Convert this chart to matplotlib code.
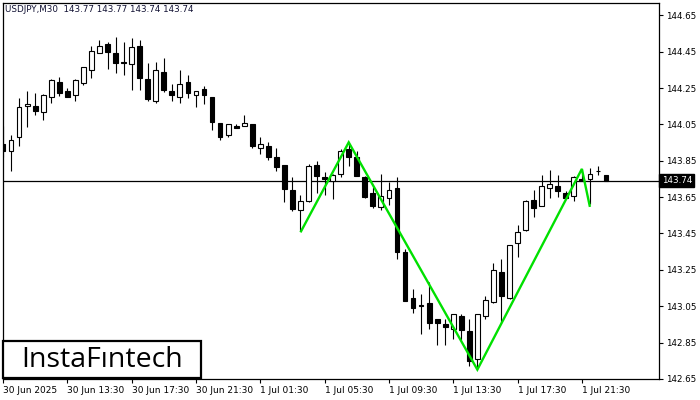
import matplotlib
matplotlib.use("Agg")
import matplotlib.pyplot as plt
from matplotlib.patches import Rectangle
import matplotlib.transforms as mtransforms

# ---------------- data (USDJPY, M30, one bar per 30 min from 30 Jun 09:30) ----------------
opens = [143.940, 143.901, 143.980, 144.149, 144.149, 144.120, 144.199, 144.284, 144.233, 144.211,
         144.278, 144.351, 144.442, 144.492, 144.442, 144.391, 144.380, 144.481, 144.301, 144.177,
         144.340, 144.233, 144.199, 144.284, 144.211, 144.244, 144.199, 144.058, 143.991, 144.042,
         144.042, 144.053, 143.918, 143.929, 143.873, 143.828, 143.687, 143.580, 143.630, 143.828,
         143.760, 143.737, 143.777, 143.912, 143.873, 143.760, 143.670, 143.596, 143.647, 143.698,
         143.349, 143.095, 143.056, 143.067, 142.977, 142.954, 142.926, 142.994, 142.915, 142.757,
         142.994, 143.073, 143.236, 143.095, 143.399, 143.467, 143.636, 143.602, 143.698, 143.709,
         143.670, 143.658, 143.749, 143.749, 143.791, 143.770]
highs = [144.042, 143.991, 144.194, 144.233, 144.222, 144.216, 144.301, 144.312, 144.250, 144.301,
         144.368, 144.481, 144.515, 144.504, 144.532, 144.504, 144.526, 144.515, 144.385, 144.391,
         144.413, 144.273, 144.351, 144.323, 144.233, 144.261, 144.199, 144.058, 144.053, 144.053,
         144.104, 144.053, 143.980, 143.951, 143.918, 143.828, 143.760, 143.659, 143.833, 143.850,
         143.788, 143.777, 143.912, 143.946, 143.901, 143.766, 143.704, 143.777, 143.732, 143.760,
         143.366, 143.146, 143.118, 143.185, 142.977, 142.977, 143.005, 143.005, 142.982, 143.005,
         143.106, 143.287, 143.309, 143.388, 143.495, 143.636, 143.687, 143.771, 143.799, 143.771,
         143.681, 143.766, 143.805, 143.811, 143.822, 143.770]
lows = [143.873, 143.794, 143.929, 144.036, 144.104, 144.075, 144.165, 144.205, 144.199, 144.177,
        144.267, 144.306, 144.442, 144.357, 144.334, 144.323, 144.239, 144.239, 144.177, 144.165,
        144.227, 144.177, 144.165, 144.194, 144.143, 144.160, 144.019, 143.963, 143.980, 144.030,
        144.042, 143.918, 143.889, 143.856, 143.794, 143.625, 143.574, 143.461, 143.625, 143.675,
        143.664, 143.642, 143.760, 143.822, 143.766, 143.647, 143.591, 143.580, 143.608, 143.309,
        143.078, 143.011, 142.898, 142.926, 142.836, 142.836, 142.870, 142.864, 142.723, 142.706,
        142.977, 143.067, 142.960, 143.089, 143.320, 143.461, 143.540, 143.602, 143.647, 143.653,
        143.647, 143.630, 143.737, 143.613, 143.771, 143.740]
closes = [143.906, 143.963, 144.143, 144.160, 144.126, 144.211, 144.295, 144.222, 144.199, 144.295,
          144.363, 144.453, 144.481, 144.447, 144.385, 144.385, 144.475, 144.306, 144.188, 144.351,
          144.239, 144.211, 144.273, 144.222, 144.233, 144.211, 144.064, 143.980, 144.053, 144.030,
          144.058, 143.929, 143.940, 143.873, 143.816, 143.692, 143.585, 143.630, 143.822, 143.766,
          143.749, 143.771, 143.901, 143.873, 143.766, 143.653, 143.602, 143.658, 143.687, 143.349,
          143.078, 143.039, 143.053, 142.960, 142.960, 142.937, 143.005, 142.920, 142.751, 143.005,
          143.084, 143.247, 143.106, 143.388, 143.456, 143.630, 143.591, 143.709, 143.721, 143.681,
          143.647, 143.760, 143.737, 143.777, 143.794, 143.740]

# pattern line (bar index, price)
pattern_idx = [37, 43, 59, 72, 73]
pattern_px = [143.456, 143.951, 142.701, 143.805, 143.596]

last_price = 143.74
price_ticks = [142.65, 142.85, 143.05, 143.25, 143.45, 143.65, 143.85, 144.05, 144.25, 144.45, 144.65]
time_labels = ["30 Jun 2025", "30 Jun 13:30", "30 Jun 17:30", "30 Jun 21:30", "1 Jul 01:30",
               "1 Jul 05:30", "1 Jul 09:30", "1 Jul 13:30", "1 Jul 17:30", "1 Jul 21:30"]
title = "USDJPY,M30  143.77 143.77 143.74 143.74"

# ---------------- figure ----------------
W, H = 700, 400
fig = plt.figure(figsize=(7, 4), dpi=100)
fig.patch.set_facecolor("white")
ax = fig.add_axes([3 / W, 21 / H, 656 / W, 376 / H])
ax.set_xlim(0, 656 / 8.04)
ax.set_ylim(142.6493, 144.7176)

# candles
n = len(opens)
xs = list(range(n))
ax.vlines(xs, lows, highs, color="black", lw=0.8, zorder=2)
for i in xs:
    o, c = opens[i], closes[i]
    lo, hi = min(o, c), max(o, c)
    h = max(hi - lo, 0.004)
    face = "white" if c > o else "black"
    ax.add_patch(Rectangle((i - 0.3, lo), 0.6, h, facecolor=face,
                           edgecolor="black", lw=0.8, zorder=3))

# current price line
ax.axhline(last_price, color="black", lw=0.9, zorder=1)

# pattern
ax.plot(pattern_idx, pattern_px, color="#00e000", lw=1.7, zorder=4,
        solid_capstyle="butt", solid_joinstyle="miter")

# axes styling
for s in ax.spines.values():
    s.set_linewidth(0.9)
    s.set_color("black")
ax.yaxis.tick_right()
ax.set_yticks(price_ticks)
ax.set_yticklabels([f"{p:.2f}" for p in price_ticks])
ax.tick_params(axis="y", direction="out", length=3, width=0.8, pad=2, labelsize=6.3,
               colors="black")
ax.set_xticks(list(range(0, 73, 8)))
ax.set_xticklabels(time_labels, ha="left")
ax.tick_params(axis="x", direction="out", length=3, width=0.8, pad=2, labelsize=6.5,
               colors="black")
for lbl in ax.get_xticklabels():
    lbl.set_horizontalalignment("left")

# price label box
trans = mtransforms.blended_transform_factory(ax.transAxes, ax.transData)
ax.text(1.004, last_price, "143.74", transform=trans, color="white", fontsize=6.3,
        va="center", ha="left", clip_on=False, zorder=6,
        bbox=dict(boxstyle="square,pad=0.25", facecolor="black", edgecolor="black"))

# title
fig.text(5 / W, 1 - 10 / H, title, fontsize=6.3, color="#111133", va="center", ha="left")

# logo
fig.add_artist(Rectangle((3 / W, 22 / H), 198 / W, 37 / H, transform=fig.transFigure,
                         facecolor="white", edgecolor="black", lw=1.6, zorder=10))
fig.text(102 / W, 40 / H, "InstaF\u0131ntech", fontsize=20.5, color="black",
         family="Open Sans", ha="center", va="center", zorder=11)

fig.savefig("out.png", dpi=100)
